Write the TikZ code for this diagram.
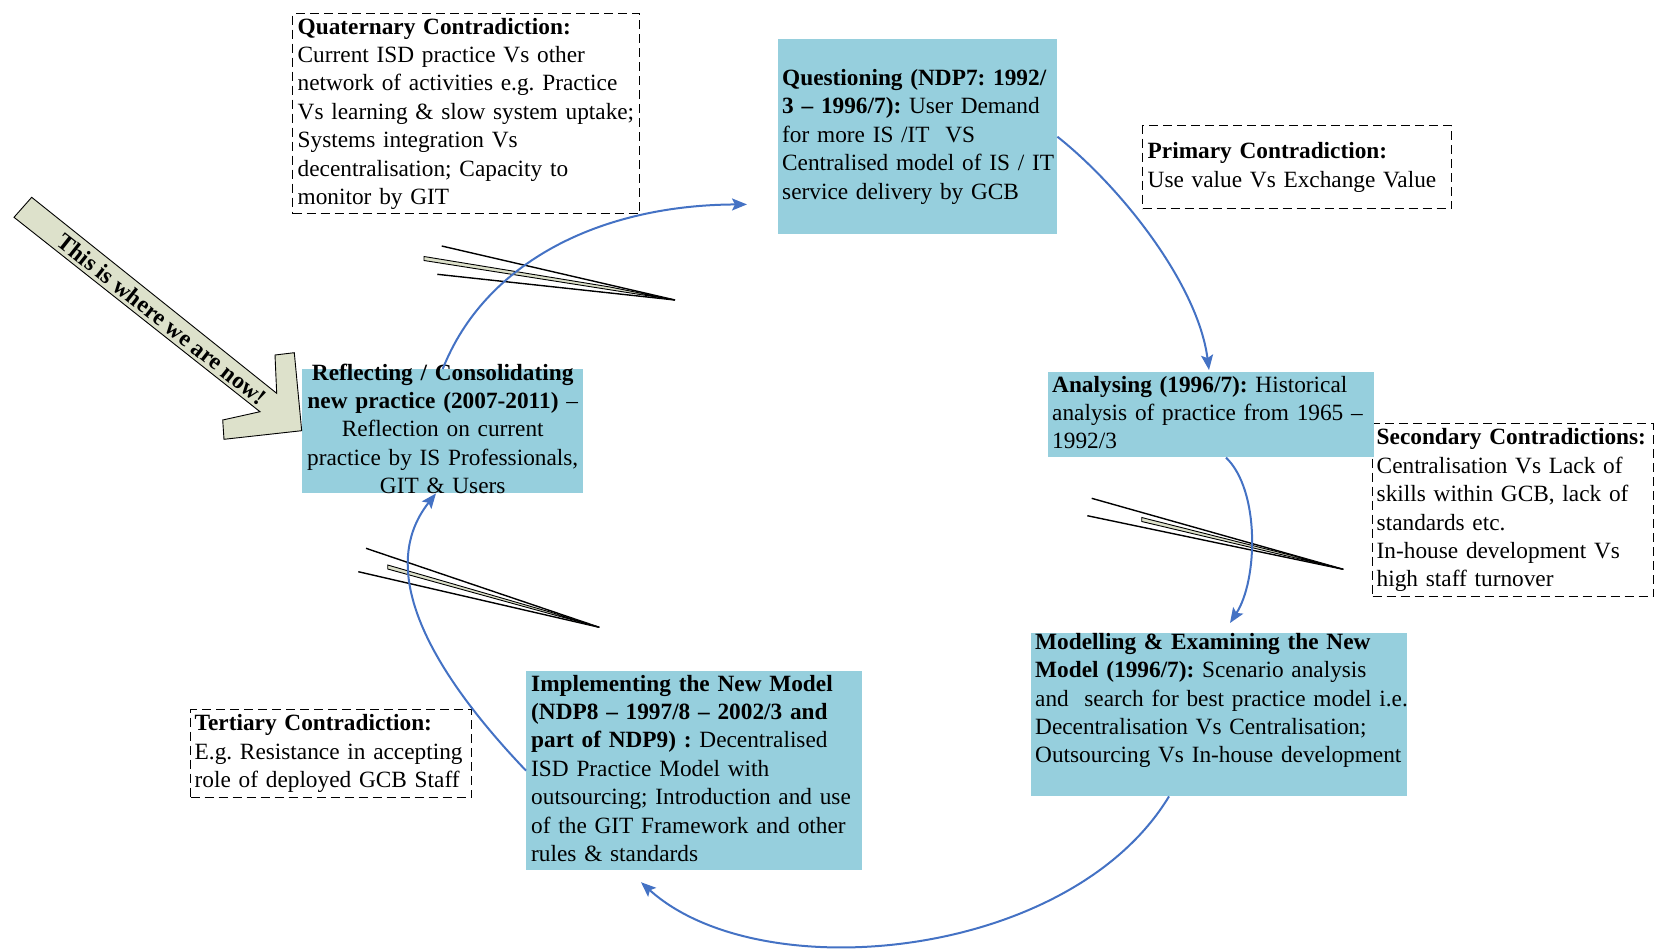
\documentclass[tikz,border=0pt]{standalone}
\usepackage{fontspec}
\setmainfont{Liberation Serif}
\usetikzlibrary{arrows.meta}
\definecolor{stagefill}{RGB}{150,207,221}
\definecolor{arrowfill}{RGB}{221,225,203}
\definecolor{flowblue}{RGB}{68,114,196}
\newcommand{\fsz}{\fontsize{23.3}{28.4}\selectfont\frenchspacing}
\newcommand{\tl}[1]{\mbox{#1}}
\begin{document}
\begin{tikzpicture}[x=1pt,y=-1pt,
  txt/.style={anchor=north west, inner ysep=0pt, align=left, font=\fsz,
    execute at begin node=\strut, execute at end node=\strut},
  stagebox/.style={txt, fill=stagefill},
  contrabox/.style={txt, draw=black, line width=1.4pt, dash pattern=on 9pt off 5pt},
  flow/.style={draw=flowblue, line width=2pt, -{Stealth[length=15pt,width=12pt,inset=3pt]}},
  bolt/.style={draw=black, line width=1.4pt},
  boltcore/.style={draw=black, line width=0.9pt, fill=arrowfill},
  bigarrow/.style={draw=black, line width=0.9pt, fill=arrowfill}]
\useasboundingbox (0,0) rectangle (1655,951);

% contradiction boxes
\node[contrabox, inner xsep=5pt, text width=337pt, minimum height=200pt] (quat) at (292,13)
 {\tl{\textbf{Quaternary Contradiction:}}\\
  \tl{Current ISD practice Vs other}\\
  \tl{network of activities e.g. Practice}\\
  \tl{Vs learning \& slow system uptake;}\\
  \tl{Systems integration Vs}\\
  \tl{decentralisation; Capacity to}\\
  \tl{monitor by GIT}};
\node[contrabox, inner xsep=5pt, text width=299pt, minimum height=83pt] (primary) at (1142,125)
 {\tl{\textbf{Primary Contradiction:}}\\
  \tl{Use value Vs Exchange Value}};
\node[contrabox, inner xsep=4pt, text width=273pt, minimum height=173pt] (second) at (1372,423)
 {\tl{\textbf{Secondary Contradictions:}}\\
  \tl{Centralisation Vs Lack of}\\
  \tl{skills within GCB, lack of}\\
  \tl{standards etc.}\\
  \tl{In-house development Vs}\\
  \tl{high staff turnover}};
\node[contrabox, inner xsep=4pt, text width=273pt, minimum height=88pt] (tert) at (190,709)
 {\tl{\textbf{Tertiary Contradiction:}}\\
  \tl{E.g. Resistance in accepting}\\
  \tl{role of deployed GCB Staff}};

% stage boxes
\node[stagebox, inner xsep=4pt, text width=271pt, minimum height=195pt] (quest) at (778,39)
 {\tl{\textbf{Questioning (NDP7: 1992/}}\\
  \tl{\textbf{3 – 1996/7):} User Demand}\\
  \tl{for more IS /IT\ \ VS}\\
  \tl{Centralised model of IS / IT}\\
  \tl{service delivery by GCB}};
\node[stagebox, inner xsep=4pt, text width=318pt, minimum height=84pt] (analys) at (1048,372)
 {\tl{\textbf{Analysing (1996/7):} Historical}\\
  \tl{analysis of practice from 1965 –}\\
  \tl{1992/3}};
\node[stagebox, inner xsep=4pt, inner ysep=-3.7pt, text width=368pt] (model) at (1031,633)
 {\tl{\textbf{Modelling \& Examining the New}}\\
  \tl{\textbf{Model (1996/7):} Scenario analysis}\\
  \tl{and\ \ search for best practice model i.e.}\\
  \tl{Decentralisation Vs Centralisation;}\\
  \tl{Outsourcing Vs In-house development}\\
  \mbox{}};
\node[stagebox, inner xsep=5pt, text width=326pt, minimum height=198pt] (implem) at (526,671)
 {\tl{\textbf{Implementing the New Model}}\\
  \tl{\textbf{(NDP8 – 1997/8 – 2002/3 and}}\\
  \tl{\textbf{part of NDP9) :} Decentralised}\\
  \tl{ISD Practice Model with}\\
  \tl{outsourcing; Introduction and use}\\
  \tl{of the GIT Framework and other}\\
  \tl{rules \& standards}};
\node[stagebox, align=center, inner xsep=4pt, inner ysep=-9pt, text width=273pt] (reflect) at (302,369)
 {\tl{\textbf{Reflecting / Consolidating}}\\
  \tl{\textbf{new practice (2007-2011)} –}\\
  \tl{Reflection on current}\\
  \tl{practice by IS Professionals,}\\
  \tl{GIT \& Users}};

% "This is where we are now!" block arrow
\draw[bigarrow] (31.7,197.3) -- (276.7,393.3) -- (275,355) -- (294.3,352.7) -- (301.7,430.7)
  -- (224,439.3) -- (222.7,420) -- (260,411.7) -- (14,217.3) -- cycle;
\node[font=\fontsize{23.5}{28}\selectfont\bfseries, rotate=-38.45, inner sep=0pt] (nowlabel) at (162,319)
  {This is where we are now!};

% contradiction bolts
\draw[bolt] (441.7,246) -- (675,300);
\draw[bolt] (437.3,274.3) -- (675,300);
\draw[boltcore] (424,256.5) -- (610,287) -- (675,300) -- (424,260.5) -- cycle;

\draw[bolt] (1091.7,498.3) -- (1343.3,569.3);
\draw[bolt] (1087.3,515.7) -- (1343.3,569.3);
\draw[boltcore] (1141.7,517.5) -- (1290,555) -- (1343.3,569.3) -- (1141.7,521.5) -- cycle;

\draw[bolt] (366,548.3) -- (599.3,627.3);
\draw[bolt] (358.3,571.7) -- (599.3,627.3);
\draw[boltcore] (387.7,565) -- (550,612) -- (599.3,627.3) -- (387.7,569) -- cycle;

% cycle connectors
\draw[flow] (reflect.north) .. controls (485,262) and (600,205) .. ([shift={(-31,-30)}]quest.south west);
\draw[flow] (quest.east) .. controls (1122,188) and (1198,285) .. ([shift={(161,-2)}]analys.north west);
\draw[flow] ([shift={(178,0)}]analys.south west) .. controls (1260,490) and (1258,580) .. ([shift={(199,-10)}]model.north west);
\draw[flow] ([shift={(138,0)}]model.south west) .. controls (1070,960) and (760,990) .. ([shift={(115,12)}]implem.south west);
\draw[flow] (implem.west) .. controls (430,670) and (375,570) .. ([shift={(134,0)}]reflect.south west);
\end{tikzpicture}
\end{document}
